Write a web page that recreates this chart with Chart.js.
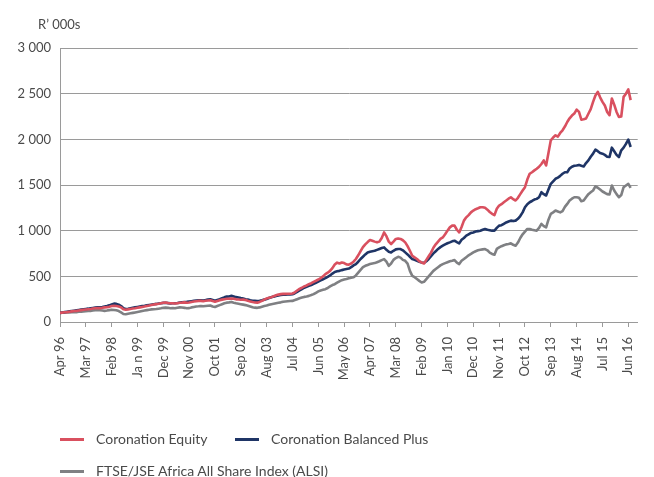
<!DOCTYPE html>
<html>
<head>
<meta charset="utf-8">
<script src="https://cdn.jsdelivr.net/npm/chart.js@4/dist/chart.umd.min.js"></script>
<style>
  html, body { margin: 0; padding: 0; background: #fff; }
  #wrap { position: relative; width: 654px; height: 477px; overflow: hidden; }
  #c { position: absolute; left: 0; top: 0; }
  .leg { position: absolute; font-family: Lato, "Open Sans", sans-serif; font-size: 14px; color: #4a4a4a; white-space: nowrap; line-height: 16px; }
  .mk { position: absolute; width: 24px; height: 3px; }
</style>
</head>
<body>
<div id="wrap">
  <canvas id="c" width="654" height="477"></canvas>
  <div class="mk" style="left:60px;top:438px;background:#d9505f"></div>
  <div class="leg" style="left:96px;top:431px">Coronation Equity</div>
  <div class="mk" style="left:235px;top:438px;background:#1f3566"></div>
  <div class="leg" style="left:271px;top:431px">Coronation Balanced Plus</div>
  <div class="mk" style="left:60px;top:470px;background:#7f8083"></div>
  <div class="leg" style="left:96px;top:463px">FTSE/JSE Africa All Share Index (ALSI)</div>
</div>
<script>
const seriesNames = ["Coronation Equity", "Coronation Balanced Plus", "FTSE/JSE Africa All Share Index (ALSI)"];
const tickLabels = ["Apr 96","Mar 97","Feb 98","Ja n 99","Dec 99","Nov 00","Oct 01","Sep 02","Aug 03","Jul 04","Jun 05","May 06","Apr 07","Mar 08","Feb 09","Jan 10","Dec 10","Nov 11","Oct 12","Sep 13","Aug 14","Jul 15","Jun 16"];
const tickIndex = [0,11,22,33,44,55,66,77,88,99,110,121,132,143,154,165,176,187,198,209,220,231,242];
const yTicks = [0,500,1000,1500,2000,2500,3000];

// Monthly values, Apr 1996 .. Jul 2016 (R'000s)
const equity = [
100,103,106,108,112,116,120,122,126,130,134,137,
140,143,147,150,153,152,155,160,163,168,175,178,
176,170,160,140,135,138,143,147,150,155,160,165,
170,175,180,186,192,196,200,205,210,212,208,205,
205,202,206,210,212,215,210,214,220,225,228,231,
231,228,232,236,238,230,222,230,238,245,250,255,
255,258,255,248,246,244,245,240,232,225,218,214,
212,220,232,245,258,265,272,282,292,300,305,308,
308,310,310,312,325,345,362,375,390,400,414,425,
440,452,465,480,500,524,540,560,590,630,650,640,
652,645,630,628,640,660,690,730,775,820,850,875,
898,890,880,872,880,920,981,940,880,854,880,909,
915,909,895,872,830,780,725,707,690,665,652,641,
680,720,760,813,850,880,910,926,960,1000,1036,1055,
1055,1010,981,1040,1110,1146,1170,1200,1220,1235,1245,1256,
1256,1250,1230,1205,1184,1170,1240,1275,1290,1311,1330,1350,
1366,1345,1330,1360,1400,1440,1476,1560,1623,1640,1660,1678,
1700,1730,1769,1714,1850,1989,2020,2044,2030,2070,2099,2140,
2190,2230,2260,2282,2326,2300,2216,2220,2228,2280,2330,2410,
2480,2520,2460,2410,2370,2300,2264,2447,2380,2300,2245,2250,
2465,2500,2546,2429];
const balanced = [
100,104,108,112,116,120,124,128,132,136,140,143,
146,150,154,157,160,162,165,170,175,182,192,201,
198,190,175,150,143,145,150,155,160,165,170,175,
178,182,186,190,195,198,202,206,209,210,207,204,
205,205,208,212,215,218,220,224,228,232,235,238,
238,236,240,245,248,240,232,242,250,260,270,278,
280,286,280,272,268,262,258,250,245,238,232,231,
230,232,238,245,252,262,270,278,284,290,295,298,
300,302,303,304,315,330,345,360,375,385,396,405,
418,430,442,455,468,480,495,510,530,548,555,560,
568,575,580,585,600,620,634,660,690,715,740,762,
770,775,780,790,800,810,817,790,770,762,780,795,
800,799,785,762,740,715,689,680,670,660,652,648,
665,690,720,751,775,800,820,835,850,862,872,883,
890,875,861,900,920,945,960,975,981,990,995,1000,
1010,1019,1010,1005,1000,1000,1030,1055,1060,1075,1090,1100,
1110,1105,1110,1130,1160,1200,1256,1290,1311,1325,1340,1348,
1366,1421,1400,1385,1450,1513,1540,1568,1580,1600,1623,1640,
1640,1680,1700,1710,1714,1720,1710,1703,1740,1769,1810,1843,
1887,1870,1850,1843,1830,1810,1806,1909,1870,1830,1806,1880,
1909,1950,1997,1916];
const alsi = [
100,102,104,106,105,108,110,108,112,114,116,118,
120,122,125,128,130,128,126,122,125,130,135,132,
128,120,105,88,85,90,95,100,105,110,115,120,
125,130,135,138,140,142,146,150,155,157,155,150,
152,150,155,160,158,155,150,152,160,165,170,172,
176,172,175,178,180,170,165,175,185,195,205,212,
215,220,212,205,200,195,190,185,178,170,162,157,
155,160,168,175,180,188,195,200,205,210,215,222,
225,228,230,231,240,250,260,268,275,280,286,295,
305,320,335,345,352,359,372,390,405,414,430,445,
458,465,470,478,485,490,510,540,570,600,615,625,
634,640,645,655,665,678,689,660,615,640,680,700,
714,705,680,670,640,560,505,490,470,450,432,440,
470,500,530,560,580,600,620,634,645,655,665,670,
678,650,634,670,689,710,730,745,762,775,785,790,
795,799,785,760,745,736,800,817,830,840,850,855,
861,845,835,870,920,960,990,1019,1019,1010,1005,1000,
1030,1074,1050,1036,1120,1184,1200,1220,1210,1200,1215,1260,
1293,1330,1350,1366,1366,1360,1322,1330,1366,1400,1421,1440,
1484,1470,1450,1429,1415,1400,1396,1495,1440,1400,1366,1390,
1476,1495,1513,1469];

const colors = ["#d9505f", "#1f3566", "#7f8083"];
const toXY = arr => arr.map((v, i) => ({ x: i, y: v }));

const titlePlugin = {
  id: 'unitTitle',
  afterDraw(chart) {
    const ctx = chart.ctx;
    ctx.save();
    ctx.font = '13px Lato, "Open Sans", sans-serif';
    ctx.fillStyle = '#4a4a4a';
    ctx.textAlign = 'left';
    ctx.textBaseline = 'alphabetic';
    ctx.fillText('R\u2019 000s', 38, 29);
    ctx.restore();
  }
};

new Chart(document.getElementById('c'), {
  type: 'line',
  data: {
    datasets: [
      { label: seriesNames[0], data: toXY(equity), borderColor: colors[0], borderWidth: 2.6 },
      { label: seriesNames[1], data: toXY(balanced), borderColor: colors[1], borderWidth: 2.6 },
      { label: seriesNames[2], data: toXY(alsi), borderColor: colors[2], borderWidth: 2.6 }
    ]
  },
  options: {
    responsive: false,
    animation: false,
    events: [],
    elements: { point: { radius: 0 }, line: { tension: 0, borderJoinStyle: 'round' } },
    layout: { padding: { left: 0, right: 6, top: 48, bottom: 0 } },
    plugins: { legend: { display: false }, tooltip: { enabled: false } },
    scales: {
      x: {
        type: 'linear',
        min: 0,
        max: 246,
        afterBuildTicks: s => { s.ticks = tickIndex.map(v => ({ value: v })); },
        afterFit: s => { s.height = 155; },
        border: { color: '#9a9a9a', width: 1 },
        grid: { drawOnChartArea: false, drawTicks: true, tickLength: 5, color: '#9a9a9a' },
        ticks: {
          autoSkip: false,
          minRotation: 90,
          maxRotation: 90,
          padding: 10,
          color: '#4a4a4a',
          font: { family: 'Lato, "Open Sans", sans-serif', size: 13 },
          callback: (v, i) => tickLabels[i]
        }
      },
      y: {
        min: 0,
        max: 3000,
        afterBuildTicks: s => { s.ticks = yTicks.map(v => ({ value: v })); },
        afterFit: s => { s.width = 60; },
        border: { color: '#9a9a9a', width: 1 },
        grid: { drawTicks: false, color: '#9a9a9a', lineWidth: 1 },
        ticks: {
          padding: 9,
          color: '#4a4a4a',
          font: { family: 'Lato, "Open Sans", sans-serif', size: 13 },
          callback: v => v >= 1000 ? Math.floor(v / 1000) + ' ' + String(v % 1000).padStart(3, '0') : String(v)
        }
      }
    }
  },
  plugins: [titlePlugin]
});
</script>
</body>
</html>
